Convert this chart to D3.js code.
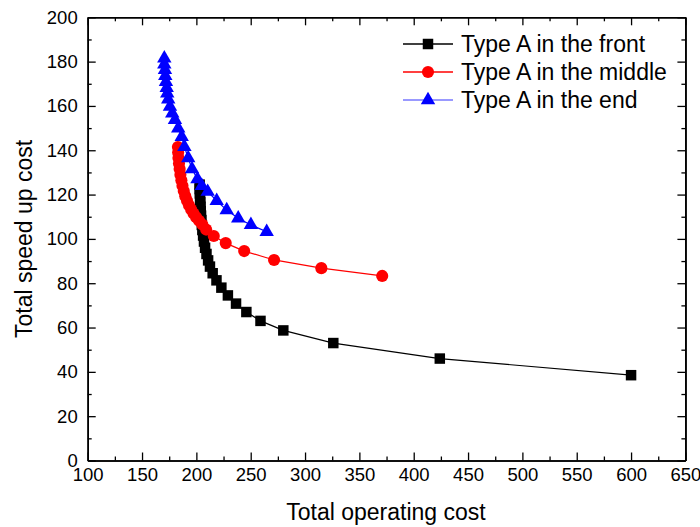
<!DOCTYPE html>
<html>
  <head>
    <meta charset="utf-8">
    <title>Total operating cost vs total speed up cost</title>
    <script src="https://d3js.org/d3.v7.min.js"></script>
    <style>
      body { margin: 0; background: #fff; }
      text { font-family: "Liberation Sans", Arial, sans-serif; }
    </style>
  </head>
  <body>
    <svg id="canvas" width="700" height="527"></svg>
    <script>
      // series values: [operating cost, speed up cost]
      var frontData = [
        [203.0,124.5],[203.1,122.5],[203.2,120.5],[203.4,118.5],[203.6,116.5],[203.8,114.5],
        [204.0,112.5],[204.3,110.5],[204.6,108.5],[205.0,106.3],[205.5,104.0],[206.2,101.5],
        [207.0,98.8],[208.0,96.0],[209.3,93.2],[210.8,90.3],[212.5,87.5],[215.0,84.5],
        [218.5,81.3],[223.0,78.0],[229.0,74.5],[236.5,70.8],[246.0,67.0],[259.0,63.0],
        [280.0,58.7],[326.0,53.0],[424.0,46.0],[600.0,38.5]
      ];
      var middleData = [
        [183.0,141.5],[183.2,139.0],[183.5,136.5],[184.0,134.0],[184.6,131.5],[185.3,129.0],
        [186.2,126.5],[187.2,124.0],[188.4,121.6],[189.8,119.3],[191.4,117.2],[193.2,115.2],
        [195.2,113.3],[197.4,111.5],[199.8,109.8],[202.5,108.2],[205.5,106.5],[209.0,104.2],
        [216.0,101.3],[227.0,98.1],[244.0,94.5],[271.5,90.5],[315.0,86.8],[371.0,83.3]
      ];
      var endData = [
        [170.5,181.5],[170.5,178.8],[171.1,176.3],[171.4,173.6],[172.0,170.9],[172.7,168.2],
        [173.2,165.7],[174.1,163.0],[175.7,159.7],[177.8,156.7],[180.3,153.7],[183.3,149.9],
        [186.5,146.1],[189.0,141.5],[192.5,136.5],[196.0,131.5],[201.0,127.0],[205.0,124.0],
        [210.4,121.3],[218.7,117.2],[227.9,113.0],[238.5,109.3],[250.2,106.3],[264.7,103.2]
      ];
      var seriesNames = ["Type A in the front", "Type A in the middle", "Type A in the end"];
      var xTicks = [100,150,200,250,300,350,400,450,500,550,600,650];
      var yTicks = [0,20,40,60,80,100,120,140,160,180,200];
      var xMinor = [125,175,225,275,325,375,425,475,525,575,625];
      var yMinor = [10,30,50,70,90,110,130,150,170,190];

      var svg = d3.select("#canvas");
      var plotLeft = 87.7, plotRight = 685.4, plotTop = 17.3, plotBottom = 460.5;

      var x = d3.scaleLinear().domain([100, 650]).range([plotLeft, plotRight]);
      var y = d3.scaleLinear().domain([0, 200]).range([plotBottom, plotTop]);

      var series = [
        {name: seriesNames[0], data: frontData, color: "#000000", legendLine: "#000000", shape: d3.symbolSquare, size: 110},
        {name: seriesNames[1], data: middleData, color: "#ff0000", legendLine: "#ff0000", shape: d3.symbolCircle, size: 115},
        {name: seriesNames[2], data: endData, color: "#0000ff", legendLine: "#7777ff", shape: d3.symbolTriangle, size: 90}
      ];

      // axes (ticks pointing inward, on all four sides)
      function styleAxis(g) {
        g.select(".domain").attr("stroke", "#000").attr("stroke-width", 1.6);
        g.selectAll(".tick line").attr("stroke", "#000").attr("stroke-width", 1.3);
        g.selectAll(".tick text").style("font-size", "18.5px").style("font-family", "'Liberation Sans', Arial, sans-serif").attr("fill", "#000");
      }

      svg.append("g").attr("transform", "translate(0," + plotBottom + ")")
        .call(d3.axisBottom(x).tickValues(xTicks).tickSizeInner(-8).tickSizeOuter(0).tickPadding(4).tickFormat(d3.format("d")))
        .call(styleAxis)
        .selectAll(".tick text").attr("dy", "0.88em");
      svg.append("g").attr("transform", "translate(0," + plotBottom + ")")
        .call(d3.axisBottom(x).tickValues(xMinor).tickSizeInner(-4).tickSizeOuter(0).tickFormat(""))
        .call(styleAxis);

      svg.append("g").attr("transform", "translate(" + plotLeft + ",0)")
        .call(d3.axisLeft(y).tickValues(yTicks).tickSizeInner(-8).tickSizeOuter(0).tickPadding(10).tickFormat(d3.format("d")))
        .call(styleAxis);
      svg.append("g").attr("transform", "translate(" + plotLeft + ",0)")
        .call(d3.axisLeft(y).tickValues(yMinor).tickSizeInner(-4).tickSizeOuter(0).tickFormat(""))
        .call(styleAxis);

      svg.append("g").attr("transform", "translate(0," + plotTop + ")")
        .call(d3.axisTop(x).tickValues(xTicks).tickSizeInner(-8).tickSizeOuter(0).tickFormat(""))
        .call(styleAxis);
      svg.append("g").attr("transform", "translate(0," + plotTop + ")")
        .call(d3.axisTop(x).tickValues(xMinor).tickSizeInner(-4).tickSizeOuter(0).tickFormat(""))
        .call(styleAxis);

      svg.append("g").attr("transform", "translate(" + plotRight + ",0)")
        .call(d3.axisRight(y).tickValues(yTicks).tickSizeInner(-8).tickSizeOuter(0).tickFormat(""))
        .call(styleAxis);
      svg.append("g").attr("transform", "translate(" + plotRight + ",0)")
        .call(d3.axisRight(y).tickValues(yMinor).tickSizeInner(-4).tickSizeOuter(0).tickFormat(""))
        .call(styleAxis);

      // axis titles
      svg.append("text")
        .attr("x", 386).attr("y", 520)
        .attr("text-anchor", "middle")
        .style("font-size", "23px")
        .text("Total operating cost");
      svg.append("text")
        .attr("transform", "translate(32," + (plotBottom + plotTop) / 2 + ") rotate(-90)")
        .attr("text-anchor", "middle")
        .style("font-size", "23px")
        .text("Total speed up cost");

      // lines and markers
      var line = d3.line().x(function(d){ return x(d[0]); }).y(function(d){ return y(d[1]); });

      series.forEach(function(s){
        svg.append("path")
          .datum(s.data)
          .attr("d", line)
          .attr("fill", "none")
          .attr("stroke", s.color)
          .attr("stroke-width", 1.2);
      });
      series.forEach(function(s){
        svg.append("g").selectAll("path")
          .data(s.data)
          .enter()
          .append("path")
          .attr("transform", function(d){ return "translate(" + x(d[0]) + "," + y(d[1]) + ")"; })
          .attr("d", d3.symbol().type(s.shape).size(s.size))
          .attr("fill", s.color);
      });

      // legend
      var legend = svg.append("g");
      series.forEach(function(s, i){
        var ly = 44 + i * 28;
        legend.append("line")
          .attr("x1", 403).attr("x2", 453).attr("y1", ly).attr("y2", ly)
          .attr("stroke", s.legendLine).attr("stroke-width", 1.5);
        legend.append("path")
          .attr("transform", "translate(428," + ly + ")")
          .attr("d", d3.symbol().type(s.shape).size(s.size))
          .attr("fill", s.color);
        legend.append("text")
          .attr("x", 461).attr("y", ly + 8)
          .style("font-size", "23px")
          .text(s.name);
      });
    </script>
  </body>
</html>
